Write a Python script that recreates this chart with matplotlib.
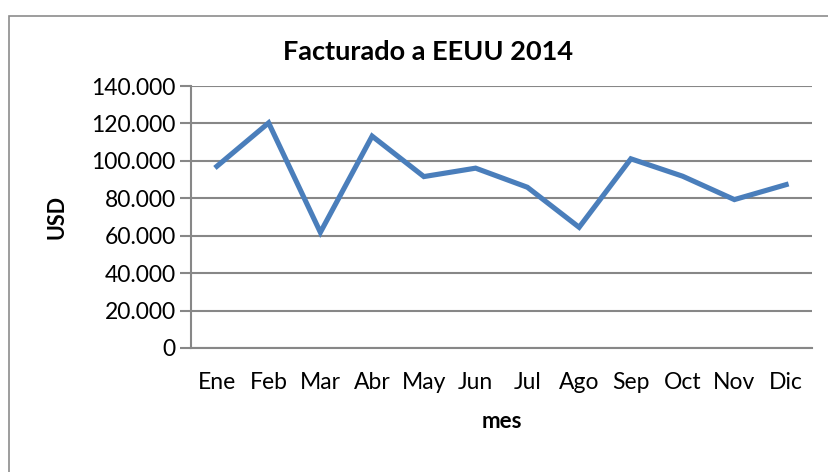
import matplotlib.pyplot as plt
from matplotlib.patches import Rectangle
from matplotlib.ticker import FuncFormatter

meses = ["Ene", "Feb", "Mar", "Abr", "May", "Jun", "Jul", "Ago", "Sep", "Oct", "Nov", "Dic"]
facturado = [97100, 120300, 61800, 113200, 91600, 96100, 85900, 64500, 101100, 91800, 79300, 87300]
y_ticks = [0, 20000, 40000, 60000, 80000, 100000, 120000, 140000]

plt.rcParams['font.family'] = ['Lato', 'DejaVu Sans']

fig = plt.figure(figsize=(8.29, 4.72), dpi=100)
ax = fig.add_axes([191 / 829, 1 - 348 / 472, 621 / 829, 262 / 472])

# outer chart frame, like the Excel chart area
fig.patches.append(Rectangle((9 / 829, -0.1), 1.2, 1 - 16 / 472 + 0.1,
                             transform=fig.transFigure, fill=False,
                             edgecolor='#8c8c8c', linewidth=1.2))

x = list(range(len(meses)))
ax.plot(x, facturado, color='#4a7ebb', linewidth=3.7, solid_joinstyle='miter')

ax.set_xlim(-0.5, len(meses) - 0.5)
ax.set_ylim(0, 140000)
ax.set_yticks(y_ticks)
ax.yaxis.set_major_formatter(FuncFormatter(lambda v, p: f"{int(v):,}".replace(",", ".")))
ax.set_xticks(x)
ax.set_xticklabels(meses)

ax.grid(axis='y', color='#878787', linewidth=1.5)
ax.set_axisbelow(True)
for s in ['top', 'right']:
    ax.spines[s].set_visible(False)
ax.spines['left'].set_color('#878787')
ax.spines['bottom'].set_color('#878787')
ax.spines['left'].set_linewidth(1.5)
ax.spines['bottom'].set_linewidth(1.5)
ax.tick_params(axis='y', length=8, width=1.5, color='#878787', labelsize=16.5, pad=3)
ax.tick_params(axis='x', length=0, labelsize=16.5, pad=17)

fig.text(428 / 829, 1 - 52 / 472, "Facturado a EEUU 2014", ha='center', va='center',
         fontsize=19.5, fontweight='bold')
fig.text(502 / 829, 1 - 422 / 472, "mes", ha='center', va='center',
         fontsize=16, fontweight='bold')
fig.text(57 / 829, 1 - 217 / 472, "USD", ha='center', va='center', rotation=90,
         fontsize=15.5, fontweight='bold')

fig.savefig("out.png", dpi=100)
